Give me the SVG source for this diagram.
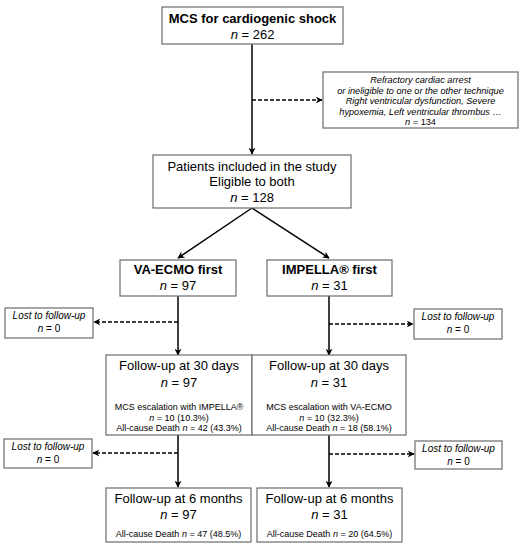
<svg xmlns="http://www.w3.org/2000/svg" width="523" height="550" viewBox="0 0 523 550">
<style>
.box{fill:#fff;stroke:#6b6b6b;stroke-width:1.2}
text{font-family:"Liberation Sans",Arial,sans-serif;fill:#000;text-anchor:middle}
.big{font-size:13px}
.b{font-weight:bold}
.sm{font-size:9px}
.md{font-size:10px}
.ex{font-size:9.2px}
.it{font-style:italic}
.ln{stroke:#000;stroke-width:1.5;fill:none}
.ds{stroke:#000;stroke-width:1.5;fill:none;stroke-dasharray:4 2}
</style>
<defs>
<marker id="ah" viewBox="0 0 10 10" refX="9" refY="5" markerWidth="7" markerHeight="7" markerUnits="userSpaceOnUse" orient="auto">
<path d="M0,0 L10,5 L0,10 L3,5 z" fill="#000"/>
</marker>
</defs>
<g id="connectors">
<line class="ln" x1="252" y1="44" x2="252" y2="154" marker-end="url(#ah)"/>
<line class="ds" x1="252" y1="100" x2="322" y2="100" marker-end="url(#ah)"/>
<line class="ln" x1="252" y1="208" x2="178" y2="258" marker-end="url(#ah)"/>
<line class="ln" x1="252" y1="208" x2="329" y2="258" marker-end="url(#ah)"/>
<line class="ln" x1="178" y1="296" x2="178" y2="355" marker-end="url(#ah)"/>
<line class="ds" x1="178" y1="322" x2="94" y2="322" marker-end="url(#ah)"/>
<line class="ln" x1="329" y1="296" x2="329" y2="355" marker-end="url(#ah)"/>
<line class="ds" x1="329" y1="324" x2="413" y2="324" marker-end="url(#ah)"/>
<line class="ln" x1="178" y1="435" x2="178" y2="487" marker-end="url(#ah)"/>
<line class="ds" x1="178" y1="453" x2="93" y2="453" marker-end="url(#ah)"/>
<line class="ln" x1="329" y1="435" x2="329" y2="487" marker-end="url(#ah)"/>
<line class="ds" x1="329" y1="454" x2="414" y2="454" marker-end="url(#ah)"/>
</g>
<g id="n-mcs">
<rect class="box" x="162" y="7" width="181" height="37"/>
<text class="big b" x="252.5" y="23">MCS for cardiogenic shock</text>
<text class="big" x="252.5" y="39"><tspan class="it">n</tspan> = 262</text>
</g>
<g id="n-excluded">
<rect class="box" x="323" y="72" width="195" height="56"/>
<text class="ex it" x="420.5" y="83">Refractory cardiac arrest</text>
<text class="ex it" x="420.5" y="93.5">or ineligible to one or the other technique</text>
<text class="ex it" x="420.5" y="104">Right ventricular dysfunction, Severe</text>
<text class="ex it" x="420.5" y="114.5">hypoxemia, Left ventricular thrombus …</text>
<text class="ex" x="420.5" y="125"><tspan class="it">n</tspan> = 134</text>
</g>
<g id="n-included">
<rect class="box" x="153" y="155" width="198" height="53"/>
<text class="big" x="252" y="171">Patients included in the study</text>
<text class="big" x="252" y="186">Eligible to both</text>
<text class="big" x="252" y="202"><tspan class="it">n</tspan> = 128</text>
</g>
<g id="n-vaecmo">
<rect class="box" x="120" y="260" width="116" height="36"/>
<text class="big b" x="178" y="274">VA-ECMO first</text>
<text class="big" x="178" y="290"><tspan class="it">n</tspan> = 97</text>
</g>
<g id="n-impella">
<rect class="box" x="267" y="260" width="125" height="36"/>
<text class="big b" x="329.5" y="274">IMPELLA® first</text>
<text class="big" x="329.5" y="290"><tspan class="it">n</tspan> = 31</text>
</g>
<g id="n-lost1-left">
<rect class="box" x="5" y="308" width="88" height="30"/>
<text class="md it" x="49" y="319">Lost to follow-up</text>
<text class="md" x="49" y="332"><tspan class="it">n</tspan> = 0</text>
</g>
<g id="n-lost1-right">
<rect class="box" x="414" y="309" width="88" height="30"/>
<text class="md it" x="458" y="320">Lost to follow-up</text>
<text class="md" x="458" y="333"><tspan class="it">n</tspan> = 0</text>
</g>
<g id="n-30d-left">
<rect class="box" x="106" y="355" width="146" height="80"/>
<text class="big" x="179" y="370">Follow-up at 30 days</text>
<text class="big" x="179" y="387"><tspan class="it">n</tspan> = 97</text>
<text class="sm" x="179" y="410">MCS escalation with IMPELLA®</text>
<text class="sm" x="179" y="421"><tspan class="it">n</tspan> = 10 (10.3%)</text>
<text class="sm" x="179" y="431">All-cause Death <tspan class="it">n</tspan> = 42 (43.3%)</text>
</g>
<g id="n-30d-right">
<rect class="box" x="252" y="355" width="154" height="80"/>
<text class="big" x="329" y="370">Follow-up at 30 days</text>
<text class="big" x="329" y="387"><tspan class="it">n</tspan> = 31</text>
<text class="sm" x="329" y="410">MCS escalation with VA-ECMO</text>
<text class="sm" x="329" y="421"><tspan class="it">n</tspan> = 10 (32.3%)</text>
<text class="sm" x="329" y="431">All-cause Death <tspan class="it">n</tspan> = 18 (58.1%)</text>
</g>
<g id="n-lost2-left">
<rect class="box" x="4" y="439" width="88" height="29"/>
<text class="md it" x="48" y="450">Lost to follow-up</text>
<text class="md" x="48" y="463"><tspan class="it">n</tspan> = 0</text>
</g>
<g id="n-lost2-right">
<rect class="box" x="415" y="441" width="87" height="28"/>
<text class="md it" x="458.5" y="452">Lost to follow-up</text>
<text class="md" x="458.5" y="465"><tspan class="it">n</tspan> = 0</text>
</g>
<g id="n-6m-left">
<rect class="box" x="106" y="488" width="145" height="54"/>
<text class="big" x="178.5" y="503">Follow-up at 6 months</text>
<text class="big" x="178.5" y="519"><tspan class="it">n</tspan> = 97</text>
<text class="sm" x="178.5" y="537">All-cause Death <tspan class="it">n</tspan> = 47 (48.5%)</text>
</g>
<g id="n-6m-right">
<rect class="box" x="257" y="488" width="145" height="54"/>
<text class="big" x="329.5" y="503">Follow-up at 6 months</text>
<text class="big" x="329.5" y="519"><tspan class="it">n</tspan> = 31</text>
<text class="sm" x="329.5" y="537">All-cause Death <tspan class="it">n</tspan> = 20 (64.5%)</text>
</g>
</svg>
